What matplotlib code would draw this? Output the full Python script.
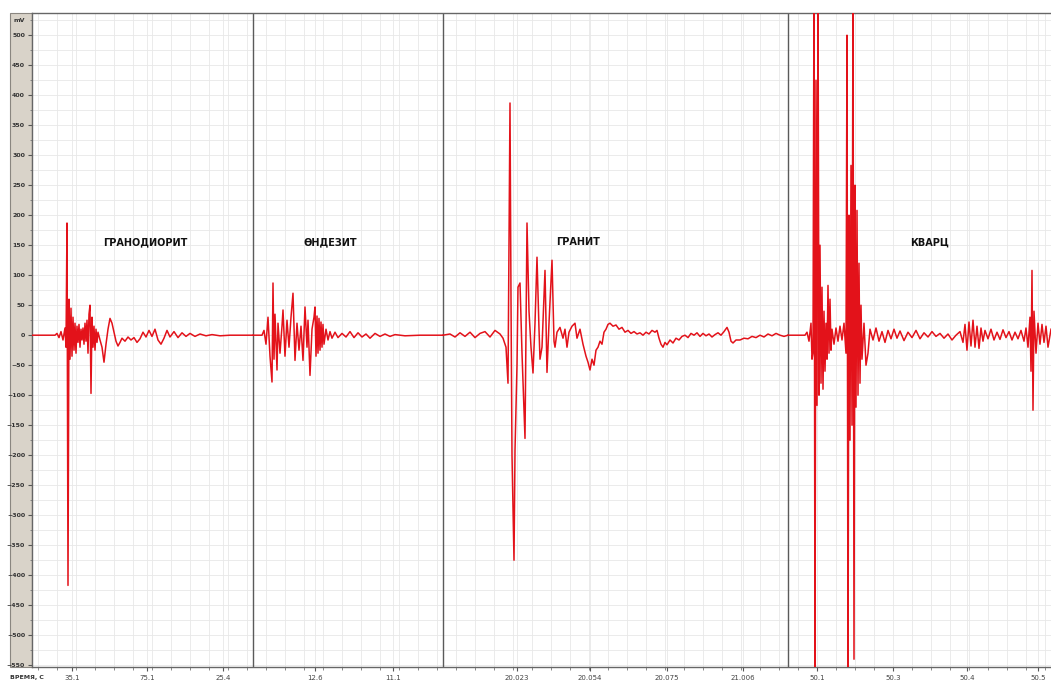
import matplotlib
matplotlib.use('Agg')
import matplotlib.pyplot as plt
from matplotlib.patches import Rectangle
from matplotlib.ticker import MultipleLocator

# sample position (record index) and signal in mV
granodiorite_t = [32, 55, 57, 59, 61, 63, 65, 66, 67, 68, 69, 70, 71, 72, 73, 74, 75, 76, 77, 78,
                  79, 80, 81, 82, 83, 84, 85, 86, 87, 88, 89, 90, 91, 92, 93, 94, 95, 96, 97, 98,
                  100, 102, 104, 106, 108, 110, 112, 114, 116, 118, 120, 122, 125, 128, 131, 134,
                  137, 140, 143, 146, 149, 152, 155, 158, 161, 164, 167, 170, 174, 178, 182, 186,
                  190, 195, 200, 206, 212, 220, 230, 253]
granodiorite_mv = [0, 0, 3, -4, 6, -8, 12, -20, 187, -417, 60, -40, 45, -35, 30, -25, 20, -30, 15, -12,
                   18, -20, 10, -8, 12, -15, 20, -10, 25, -30, 35, 50, -97, 30, -20, 15, -25, 10, -12, 5,
                   -8, -20, -45, -15, 10, 28, 20, 5, -10, -18, -12, -5, -10, -3, -8, -4,
                   -12, -6, 5, -3, 8, -2, 10, -8, -15, -5, 8, -3, 6, -4, 4, -2,
                   3, -2, 2, -1, 1, -1, 0, 0]

andesite_t = [253, 262, 264, 266, 268, 270, 272, 273, 274, 275, 277, 278, 280, 282, 283, 285, 287,
              289, 291, 293, 295, 297, 299, 301, 303, 305, 307, 308, 310, 312, 314, 315, 316, 317,
              318, 319, 320, 321, 322, 323, 324, 326, 328, 330, 332, 335, 338, 342, 346, 350, 354,
              358, 362, 366, 370, 375, 380, 385, 390, 395, 405, 420, 443]
andesite_mv = [0, 0, 8, -15, 30, -35, -78, 87, -40, 35, -58, 20, -30, 15, 42, -35, 25,
               -20, 30, 70, -42, 20, -25, 15, -42, 47, -20, 25, -67, 10, 30, 47, -35, 32,
               -30, 28, -25, 22, -20, 18, -15, 10, -8, 6, -5, 5, -4, 3, -3, 6, -4,
               4, -3, 2, -5, 3, -2, 2, -2, 1, -1, 0, 0]

granite_t = [443, 450, 455, 460, 465, 470, 475, 480, 485, 490, 495, 500, 503, 506, 508, 510, 511,
             512, 514, 515, 517, 518, 520, 522, 525, 527, 529, 531, 533, 535, 537, 539, 540, 542,
             545, 547, 549, 552, 554, 555, 557, 560, 563, 565, 567, 569, 572, 575, 577, 580, 583,
             586, 588, 590, 592, 594, 596, 598, 600, 602, 604, 606, 608, 610, 613, 616, 619, 622,
             625, 628, 631, 634, 637, 640, 643, 646, 649, 652, 655, 657, 659, 661, 663, 665, 667,
             670, 673, 676, 679, 682, 685, 688, 691, 694, 697, 700, 703, 706, 709, 712, 715, 718,
             721, 724, 727, 729, 731, 733, 736, 740, 744, 748, 752, 756, 760, 764, 768, 772, 776,
             780, 784, 788]
granite_mv = [0, 2, -3, 4, -2, 5, -4, 3, 6, -3, 8, 2, -5, -20, -80, 387, 60,
              -200, -375, -192, -50, 80, 87, -30, -172, 187, 40, -20, -63, 20, 130, 10, -40, -20,
              108, -62, 20, 125, -10, -20, 5, 13, -5, 10, -20, 5, 15, 20, -5, 10, -15,
              -35, -45, -58, -40, -50, -25, -20, -10, -15, 5, 10, 18, 20, 15, 17, 10, 13,
              5, 8, 3, 6, 2, 4, 0, 5, 2, 8, 5, 8, -5, -15, -20, -12, -16,
              -8, -13, -5, -8, -2, 0, -4, 3, 0, 4, -2, 3, -1, 2, -3, 1, 4,
              0, 6, 13, 5, -10, -13, -8, -8, -5, -6, -2, -4, 0, -3, 2, -1, 3,
              0, -2, 0]

quartz_t = [788, 805, 807, 809, 811, 812, 813, 814, 815, 816, 817, 818, 819, 820, 821, 822, 823,
            824, 825, 826, 827, 828, 829, 830, 831, 832, 834, 836, 838, 840, 842, 844, 846, 847,
            848, 849, 850, 851, 852, 853, 854, 855, 856, 857, 858, 859, 860, 861, 862, 864, 866,
            868, 870, 873, 876, 879, 882, 885, 888, 891, 894, 897, 900, 904, 908, 912, 916, 920,
            924, 928, 932, 936, 940, 944, 948, 952, 956, 960, 963, 965, 967, 969, 971, 973, 975,
            977, 979, 981, 983, 985, 988, 991, 994, 997, 1000, 1003, 1006, 1009, 1012, 1015,
            1018, 1021, 1024, 1026, 1028, 1030, 1031, 1032, 1033, 1034, 1036, 1038, 1040, 1042,
            1044, 1046, 1048, 1051]
quartz_mv = [0, 0, 5, -10, 20, -40, -30, 600, -600, 425, -117, 600, -100, 150, -80, 80, -90,
             40, -60, 20, -40, 83, -30, 60, -25, 10, -15, 12, -10, 15, -8, 20, -30, 500,
             -600, 200, -175, 283, -150, 600, -540, 250, -120, 208, -100, 120, -80, 50, -40, 20, -50,
             -30, 10, -8, 12, -10, 6, -12, 8, -6, 10, -5, 7, -9, 5, -4, 8, -6,
             4, -3, 6, -2, 3, -5, 2, -8, 0, 6, -12, 18, -25, 22, -18, 25, -20,
             15, -22, 12, -10, 8, -6, 10, -8, 5, -7, 9, -4, 6, -8, 5,
             -6, 8, -10, 12, -20, 30, -60, 108, -125, 40, -30, 20, -15, 18,
             -12, 15, -20, 10]

section_t = [253, 443, 788]
rock_names = ['ГРАНОДИОРИТ', 'ӨНДЕЗИТ', 'ГРАНИТ', 'КВАРЦ']
rock_label_t = [145, 330, 578, 930]
rock_label_mv = [155, 155, 155, 155]

time_ticks = [72, 147, 223, 315, 393, 517, 590, 667, 743, 817, 893, 967, 1038]
time_labels = ['35.1', '75.1', '25.4', '12.6', '11.1', '20.023', '20.054', '20.075', '21.006',
               '50.1', '50.3', '50.4', '50.5']

W, H = 1051, 682
fig = plt.figure(figsize=(W / 100, H / 100), dpi=100)
fig.patch.set_facecolor('white')

# beige strip behind the mV scale (kept under the axes so tick labels show)
fig.patches.append(Rectangle((10 / W, 1 - 667 / H), 22 / W, 654 / H, transform=fig.transFigure,
                             facecolor='#d9d3c9', edgecolor='#8a8680', linewidth=0.8, zorder=-5))

ax = fig.add_axes([32 / W, 1 - 667 / H, 1 - 32 / W, 654 / H])
ax.set_zorder(2)
ax.set_xlim(32, 1051)
ax.set_ylim(-553, 537)

ax.yaxis.set_major_locator(MultipleLocator(50))
ax.yaxis.set_minor_locator(MultipleLocator(25))
ax.xaxis.set_minor_locator(MultipleLocator(19))
ax.set_xticks(time_ticks)
ax.set_xticklabels(time_labels)
ax.grid(which='both', color='#e8e8e8', linewidth=0.6, zorder=0)
ax.set_axisbelow(True)

ax.tick_params(axis='y', which='major', labelsize=4.5, length=3, pad=2, colors='#555555',
               labelcolor='#333333')
ax.tick_params(axis='y', which='minor', length=1.5, colors='#777777')
ax.tick_params(axis='x', which='major', labelsize=5, length=3, pad=3, colors='#555555',
               labelcolor='#444444')
ax.tick_params(axis='x', which='minor', length=2, colors='#777777')
for lbl in ax.get_yticklabels():
    lbl.set_fontweight('bold')

for side in ['top', 'left', 'bottom']:
    ax.spines[side].set_color('#666666')
    ax.spines[side].set_linewidth(1.0)
ax.spines['right'].set_visible(False)

for t0 in section_t:
    ax.axvline(t0, color='#5a5a5a', linewidth=1.0, zorder=2)

red = '#e3121a'
for ts, vs in [(granodiorite_t, granodiorite_mv), (andesite_t, andesite_mv),
               (granite_t, granite_mv), (quartz_t, quartz_mv)]:
    ax.plot(ts, vs, color=red, linewidth=1.1, zorder=3)

for name, x, y in zip(rock_names, rock_label_t, rock_label_mv):
    ax.text(x, y, name, ha='center', va='center', fontsize=7, fontweight='bold', color='#111111',
            zorder=4)

fig.text(14 / W, 1 - 20 / H, 'mV', fontsize=4.5, fontweight='bold', color='#333333',
         ha='left', va='center')
fig.text(10 / W, 1 - 677 / H, 'ВРЕМЯ, С', fontsize=4.5, fontweight='bold', color='#333333',
         ha='left', va='center')

fig.savefig('out.png', dpi=100)
